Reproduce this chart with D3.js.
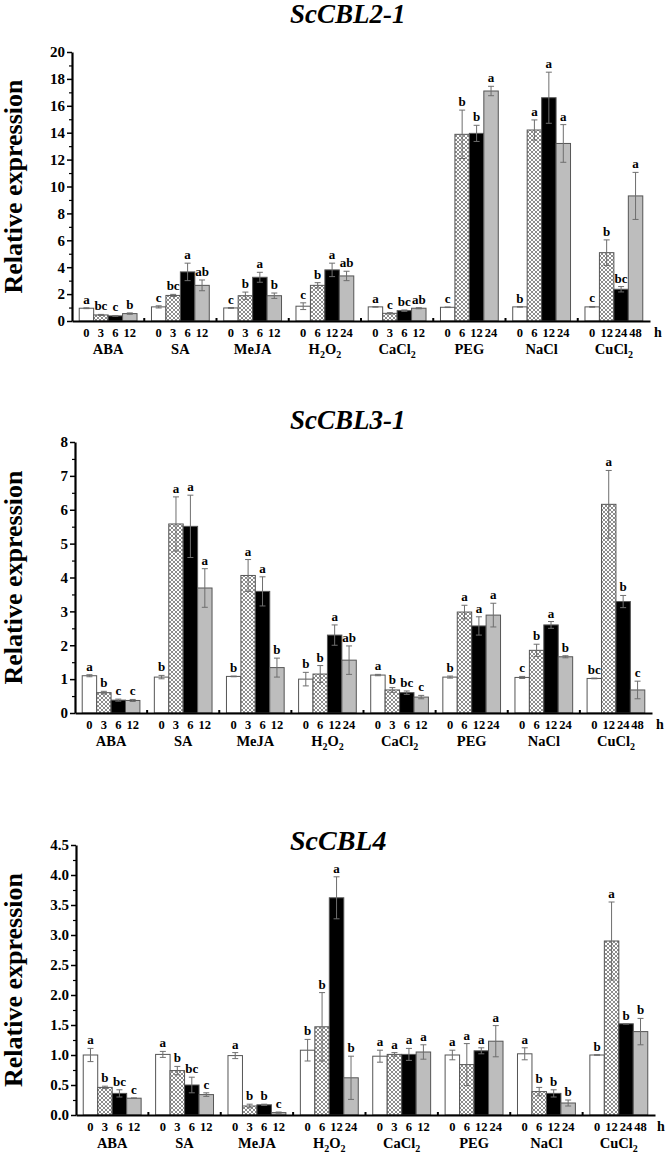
<!DOCTYPE html>
<html><head><meta charset="utf-8">
<script src="https://cdn.jsdelivr.net/npm/d3@7"></script>
<style>
html,body{margin:0;padding:0;background:#fff;}
text{font-family:"Liberation Serif","Times New Roman",serif;font-weight:bold;fill:#000;}
</style></head>
<body>
<svg id="chart" width="666" height="1159"></svg>
<script>
// ---------- DATA ----------
const groups = ["ABA", "SA", "MeJA", "H2O2", "CaCl2", "PEG", "NaCl", "CuCl2"];
const timeLabels = [
  ["0","3","6","12"], ["0","3","6","12"], ["0","3","6","12"], ["0","6","12","24"],
  ["0","3","6","12"], ["0","6","12","24"], ["0","6","12","24"], ["0","12","24","48"]
];

// ScCBL2-1
const cbl2Values = [
  [0.95, 0.45, 0.38, 0.55], [1.05, 1.9, 3.65, 2.65], [0.97, 1.88, 3.25, 1.88], [1.1, 2.65, 3.8, 3.35],
  [1.05, 0.57, 0.77, 0.95], [1.02, 13.88, 13.95, 17.1], [1.05, 14.2, 16.6, 13.2], [1.05, 5.08, 2.36, 9.3]
];
const cbl2Errors = [
  [0.03, 0.04, 0.03, 0.05], [0.08, 0.08, 0.65, 0.4], [0.03, 0.27, 0.37, 0.2], [0.25, 0.2, 0.5, 0.35],
  [0.02, 0.05, 0.05, 0.04], [0.02, 1.8, 0.6, 0.35], [0.02, 0.75, 1.9, 1.4], [0.03, 0.95, 0.2, 1.75]
];
const cbl2Letters = [
  ["a","bc","c","b"], ["c","bc","a","ab"], ["c","b","a","b"], ["c","b","a","ab"],
  ["a","c","bc","ab"], ["c","b","b","a"], ["b","a","a","a"], ["c","b","bc","a"]
];
const cbl2Ticks = [0, 2, 4, 6, 8, 10, 12, 14, 16, 18, 20];

// ScCBL3-1
const cbl3Values = [
  [1.1, 0.6, 0.38, 0.37], [1.06, 5.58, 5.51, 3.69], [1.08, 4.06, 3.59, 1.34], [1.0, 1.15, 2.3, 1.56],
  [1.12, 0.68, 0.6, 0.47], [1.06, 2.98, 2.57, 2.89], [1.05, 1.85, 2.6, 1.66], [1.02, 6.16, 3.29, 0.68]
];
const cbl3Errors = [
  [0.03, 0.04, 0.03, 0.03], [0.05, 0.8, 0.92, 0.57], [0.01, 0.47, 0.43, 0.28], [0.2, 0.25, 0.3, 0.42],
  [0.02, 0.07, 0.05, 0.05], [0.03, 0.2, 0.27, 0.35], [0.03, 0.18, 0.1, 0.03], [0.01, 1.0, 0.18, 0.26]
];
const cbl3Letters = [
  ["a","b","c","c"], ["b","a","a","a"], ["b","a","a","b"], ["b","b","a","ab"],
  ["a","b","bc","c"], ["b","a","a","a"], ["c","b","a","b"], ["bc","a","b","c"]
];
const cbl3Ticks = [0, 1, 2, 3, 4, 5, 6, 7, 8];

// ScCBL4
const cbl4Values = [
  [1.0, 0.46, 0.36, 0.28], [1.01, 0.74, 0.5, 0.34], [0.99, 0.15, 0.17, 0.04], [1.08, 1.47, 3.62, 0.62],
  [0.98, 1.01, 1.01, 1.05], [1.0, 0.84, 1.07, 1.23], [1.02, 0.39, 0.36, 0.2], [1.0, 2.9, 1.52, 1.39]
];
const cbl4Errors = [
  [0.11, 0.02, 0.06, 0.005], [0.05, 0.07, 0.13, 0.03], [0.05, 0.03, 0.01, 0.01], [0.18, 0.57, 0.35, 0.36],
  [0.1, 0.03, 0.1, 0.12], [0.08, 0.35, 0.05, 0.26], [0.1, 0.07, 0.06, 0.05], [0.005, 0.65, 0.005, 0.22]
];
const cbl4Letters = [
  ["a","b","bc","c"], ["a","b","bc","c"], ["a","b","b","c"], ["b","b","a","b"],
  ["a","a","a","a"], ["a","a","a","a"], ["a","b","b","b"], ["b","a","b","b"]
];
const cbl4Ticks = [0, 0.5, 1.0, 1.5, 2.0, 2.5, 3.0, 3.5, 4.0, 4.5];

// ---------- DRAW ----------
const svg = d3.select("#chart");
const defs = svg.append("defs");
const pat = defs.append("pattern").attr("id", "hatch").attr("patternUnits", "userSpaceOnUse")
  .attr("width", 4).attr("height", 4);
pat.append("rect").attr("width", 4).attr("height", 4).attr("fill", "#fff");
pat.append("path").attr("d", "M-1,1 L1,-1 M0,4 L4,0 M3,5 L5,3 M-1,3 L1,5 M0,0 L4,4 M3,-1 L5,1")
  .attr("stroke", "#707070").attr("stroke-width", 0.8);

const fills = ["#ffffff", "url(#hatch)", "#000000", "#bdbdbd"];

const panels = [
  {title: "ScCBL2-1", values: cbl2Values, errors: cbl2Errors, letters: cbl2Letters, ticks: cbl2Ticks,
   fmt: d3.format("d"), minor: 1, x0: 72, x1: 650, yTop: 52, yBot: 321, titleY: 23, titleSize: 27, hx: 654},
  {title: "ScCBL3-1", values: cbl3Values, errors: cbl3Errors, letters: cbl3Letters, ticks: cbl3Ticks,
   fmt: d3.format("d"), minor: 0.5, x0: 75, x1: 652, yTop: 442, yBot: 713, titleY: 429, titleSize: 27, hx: 656},
  {title: "ScCBL4", values: cbl4Values, errors: cbl4Errors, letters: cbl4Letters, ticks: cbl4Ticks,
   fmt: d3.format(".1f"), minor: 0.25, x0: 76, x1: 655, yTop: 845, yBot: 1115, titleY: 850, titleSize: 28, hx: 657}
];

function groupLabel(sel, name) {
  const m = {"H2O2": [["H",""],["2","sub"],["O",""],["2","sub"]],
             "CaCl2": [["CaCl",""],["2","sub"]],
             "CuCl2": [["CuCl",""],["2","sub"]]};
  const parts = m[name] || [[name, ""]];
  parts.forEach(([t, k], i) => {
    const ts = sel.append("tspan").text(t);
    if (k === "sub") ts.attr("font-size", "10px").attr("dy", 4);
    else if (i > 0) ts.attr("dy", -4);
  });
}

panels.forEach(p => {
  const g = svg.append("g");
  const maxV = p.ticks[p.ticks.length - 1];
  const y = d3.scaleLinear().domain([0, maxV]).range([p.yBot, p.yTop]);
  const xg = d3.scaleBand().domain(groups).range([p.x0, p.x1]).paddingInner(0).paddingOuter(0);
  const xb = d3.scaleBand().domain([0, 1, 2, 3]).range([0, xg.bandwidth()]).paddingInner(0).paddingOuter(0.5);

  // bars
  groups.forEach((grp, gi) => {
    p.values[gi].forEach((v, bi) => {
      const bx = xg(grp) + xb(bi);
      const bw = xb.bandwidth();
      g.append("rect").attr("x", bx).attr("y", y(v)).attr("width", bw).attr("height", y(0) - y(v))
        .attr("fill", fills[bi]).attr("stroke", "#555").attr("stroke-width", 1);
      const e = p.errors[gi][bi];
      const cx = bx + bw / 2;
      g.append("line").attr("x1", cx).attr("x2", cx).attr("y1", y(v + e)).attr("y2", y(Math.max(0, v - e)))
        .attr("stroke", "#6e6e6e").attr("stroke-width", 1);
      [v + e, Math.max(0, v - e)].forEach(ev => {
        g.append("line").attr("x1", cx - 3).attr("x2", cx + 3).attr("y1", y(ev)).attr("y2", y(ev))
          .attr("stroke", "#6e6e6e").attr("stroke-width", 1);
      });
      g.append("text").attr("x", cx).attr("y", y(v + e) - 4).attr("text-anchor", "middle")
        .attr("font-size", "13px").text(p.letters[gi][bi]);
      g.append("text").attr("x", cx).attr("y", p.yBot + 16).attr("text-anchor", "middle")
        .attr("font-size", "12.5px").text(timeLabels[gi][bi]);
    });
    const gl = g.append("text").attr("x", xg(grp) + xg.bandwidth() / 2).attr("y", p.yBot + 33)
      .attr("text-anchor", "middle").attr("font-size", "14.5px");
    groupLabel(gl, grp);
  });

  // y axis
  const minorTicks = d3.range(0, maxV + 1e-9, p.minor).filter(t => !p.ticks.some(m => Math.abs(m - t) < 1e-9));
  const ya = d3.axisLeft(y).tickValues(p.ticks).tickFormat(p.fmt).tickSize(5).tickSizeOuter(0);
  const yaG = g.append("g").attr("transform", `translate(${p.x0},0)`).call(ya);
  yaG.select(".domain").attr("stroke", "#000").attr("stroke-width", 2.2);
  yaG.selectAll(".tick line").attr("stroke-width", 1.5);
  yaG.selectAll(".tick text").attr("font-size", "15px").attr("font-family", "Liberation Serif")
    .attr("font-weight", "bold").attr("x", -7);
  const yMinor = d3.axisLeft(y).tickValues(minorTicks).tickFormat("").tickSize(3).tickSizeOuter(0);
  const ymG = g.append("g").attr("transform", `translate(${p.x0},0)`).call(yMinor);
  ymG.select(".domain").remove();
  ymG.selectAll(".tick line").attr("stroke-width", 1.2);

  // x axis
  const xa = d3.axisBottom(xg).tickValues([]).tickSizeOuter(0);
  const xaG = g.append("g").attr("transform", `translate(0,${p.yBot})`).call(xa);
  xaG.select(".domain").attr("stroke", "#000").attr("stroke-width", 2.2);
  groups.slice(1).forEach(grp => {
    g.append("line").attr("x1", xg(grp)).attr("x2", xg(grp)).attr("y1", p.yBot).attr("y2", p.yBot - 3)
      .attr("stroke", "#000").attr("stroke-width", 2);
  });
  g.append("text").attr("x", p.hx).attr("y", p.yBot + 16).attr("font-size", "14px").text("h");

  // titles
  g.append("text").attr("x", 290).attr("y", p.titleY).attr("font-size", p.titleSize + "px")
    .attr("font-style", "italic").text(p.title);
  const ym = (p.yTop + p.yBot) / 2;
  g.append("text").attr("transform", `translate(22,${ym}) rotate(-90)`).attr("text-anchor", "middle")
    .attr("font-size", "26px").text("Relative expression");
});
</script>
</body></html>
